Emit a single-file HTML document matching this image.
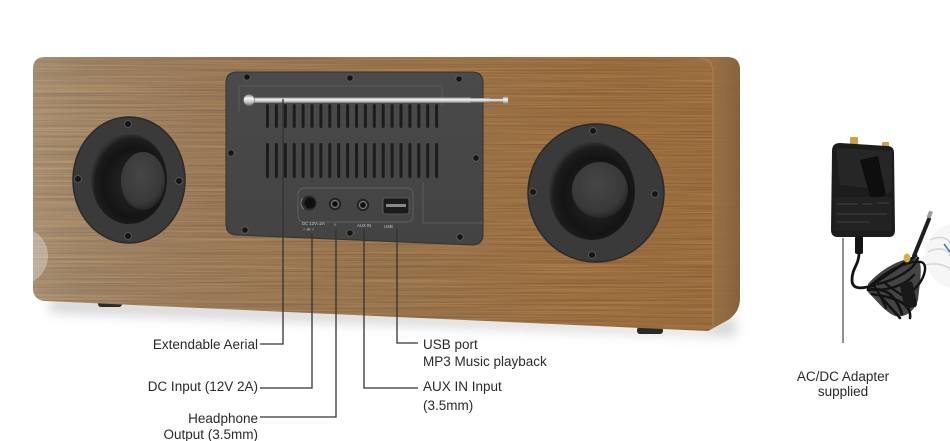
<!DOCTYPE html>
<html><head><meta charset="utf-8"><style>
html,body{margin:0;padding:0;background:#fff;width:950px;height:441px;overflow:hidden}
svg{display:block}
text{font-family:"Liberation Sans",Arial,sans-serif}
</style></head><body>
<svg width="950" height="441" viewBox="0 0 950 441" xmlns="http://www.w3.org/2000/svg">
<defs>
  <linearGradient id="wood" gradientUnits="userSpaceOnUse" x1="33" y1="0" x2="740" y2="0">
    <stop offset="0" stop-color="#bca387"/>
    <stop offset="0.07" stop-color="#b39879"/>
    <stop offset="0.25" stop-color="#a88866"/>
    <stop offset="0.5" stop-color="#a78258"/>
    <stop offset="0.8" stop-color="#ab7a48"/>
    <stop offset="1" stop-color="#a77846"/>
  </linearGradient>
  <linearGradient id="side" x1="0" y1="0" x2="1" y2="0">
    <stop offset="0" stop-color="#9a7144"/>
    <stop offset="0.5" stop-color="#906b42"/>
    <stop offset="1" stop-color="#84613b"/>
  </linearGradient>
  <clipPath id="bodyclip">
    <path d="M45,57 H727 Q740,57 740,70 V298 Q740,312 728,320 L708,331 L45,301 Q33,300 33,288 V69 Q33,57 45,57 Z"/>
  </clipPath>
  <filter id="grain" x="0" y="0" width="1" height="1" color-interpolation-filters="sRGB">
    <feTurbulence type="fractalNoise" baseFrequency="0.006 0.7" numOctaves="3" seed="7" result="n"/>
    <feColorMatrix in="n" type="matrix" values="1.2 0 0 0 -0.25  1 0 0 0 -0.27  0.6 0 0 0 -0.2  0 0 0 0 0.2"/>
  </filter>
  <filter id="blur6" x="-0.2" y="-1" width="1.4" height="3"><feGaussianBlur stdDeviation="6"/></filter>
  <radialGradient id="bowlL" cx="0.55" cy="0.55" r="0.55">
    <stop offset="0" stop-color="#2a2a2a"/>
    <stop offset="0.7" stop-color="#141414"/>
    <stop offset="0.9" stop-color="#1c1c1c"/>
    <stop offset="1" stop-color="#333"/>
  </radialGradient>
  <radialGradient id="dome" cx="0.45" cy="0.4" r="0.6">
    <stop offset="0" stop-color="#464646"/>
    <stop offset="0.8" stop-color="#393939"/>
    <stop offset="1" stop-color="#262626"/>
  </radialGradient>
  <linearGradient id="rod" x1="0" y1="0" x2="0" y2="1">
    <stop offset="0" stop-color="#8a8a8a"/>
    <stop offset="0.35" stop-color="#f6f6f6"/>
    <stop offset="0.7" stop-color="#c4c4c4"/>
    <stop offset="1" stop-color="#6e6e6e"/>
  </linearGradient>
  <linearGradient id="panelG" x1="0" y1="0" x2="0" y2="1">
    <stop offset="0" stop-color="#4a4a4a"/>
    <stop offset="1" stop-color="#434343"/>
  </linearGradient>
</defs>

<!-- shadow under body -->
<path d="M50,298 L705,328 L735,315 L735,336 L50,312 Z" fill="#9a9a9a" opacity="0.45" filter="url(#blur6)"/>

<!-- feet -->
<rect x="98" y="300" width="24" height="7" rx="3" fill="#2a2a2a"/>
<rect x="637" y="327" width="26" height="7" rx="3" fill="#2a2a2a"/>

<!-- body -->
<g clip-path="url(#bodyclip)">
  <rect x="30" y="55" width="715" height="280" fill="url(#wood)"/>
  <rect x="30" y="55" width="715" height="280" filter="url(#grain)"/>
  <!-- side face -->
  <path d="M713,57 H727 Q740,57 740,70 V298 Q740,312 728,320 L708,331 L713,331 Z" fill="url(#side)" opacity="0.88"/>
  <path d="M700,58 Q713,59 713,73 V330" fill="none" stroke="#b08655" stroke-width="1.2" opacity="0.7"/>
  <circle cx="19" cy="256" r="29" fill="#ffffff" opacity="0.3"/>
</g>

<!-- left speaker -->
<ellipse cx="129" cy="180" rx="56" ry="63" fill="#3a3a3a" stroke="#2a2a2a" stroke-width="1.5"/>
<ellipse cx="129" cy="179" rx="38" ry="45" fill="url(#bowlL)"/>
<ellipse cx="143" cy="181" rx="22" ry="29" fill="url(#dome)"/>
<g fill="#151515" stroke="#555" stroke-width="1">
  <circle cx="128" cy="124" r="3.5"/><circle cx="78" cy="179" r="3.5"/>
  <circle cx="179" cy="181" r="3.5"/><circle cx="128" cy="236" r="3.5"/>
</g>

<!-- right speaker -->
<ellipse cx="596" cy="193" rx="68" ry="69" fill="#3a3a3a" stroke="#2a2a2a" stroke-width="1.5"/>
<ellipse cx="592" cy="191" rx="43" ry="49" fill="url(#bowlL)"/>
<ellipse cx="600" cy="190" rx="28" ry="28" fill="url(#dome)"/>
<g fill="#151515" stroke="#555" stroke-width="1">
  <circle cx="593" cy="131" r="3.5"/><circle cx="533" cy="192" r="3.5"/>
  <circle cx="655" cy="194" r="3.5"/><circle cx="592" cy="255" r="3.5"/>
</g>

<!-- back panel -->
<path d="M237,72 H472 Q483,72 483,83 V234 Q483,245 472,245 L237,235 Q226,235 226,224 V83 Q226,72 237,72 Z" fill="url(#panelG)" stroke="#333" stroke-width="1"/>
<path d="M239,112 V86 H442 V106" fill="none" stroke="#5a5a5a" stroke-width="1"/>
<path d="M423,183 V223 H483" fill="none" stroke="#5c5c5c" stroke-width="1"/>
<rect x="298" y="188" width="115" height="34" rx="6" fill="none" stroke="#5e5e5e" stroke-width="1"/>
<!-- vents -->
<g fill="#1c1c1c">
  <rect x="266" y="104" width="3" height="24" rx="1.5"/><rect x="274.9" y="104" width="3" height="24" rx="1.5"/>
  <rect x="283.8" y="104" width="3" height="24" rx="1.5"/><rect x="292.7" y="104" width="3" height="24" rx="1.5"/>
  <rect x="301.6" y="104" width="3" height="24" rx="1.5"/><rect x="310.5" y="104" width="3" height="24" rx="1.5"/>
  <rect x="319.4" y="104" width="3" height="24" rx="1.5"/><rect x="328.3" y="104" width="3" height="24" rx="1.5"/>
  <rect x="337.2" y="104" width="3" height="24" rx="1.5"/><rect x="346.1" y="104" width="3" height="24" rx="1.5"/>
  <rect x="355" y="104" width="3" height="24" rx="1.5"/><rect x="363.9" y="104" width="3" height="24" rx="1.5"/>
  <rect x="372.8" y="104" width="3" height="24" rx="1.5"/><rect x="381.7" y="104" width="3" height="24" rx="1.5"/>
  <rect x="390.6" y="104" width="3" height="24" rx="1.5"/><rect x="399.5" y="104" width="3" height="24" rx="1.5"/>
  <rect x="408.4" y="104" width="3" height="24" rx="1.5"/><rect x="417.3" y="104" width="3" height="24" rx="1.5"/>
  <rect x="426.2" y="104" width="3" height="24" rx="1.5"/><rect x="435.1" y="104" width="3" height="24" rx="1.5"/>

  <rect x="266" y="143" width="3" height="35" rx="1.5"/><rect x="274.9" y="143" width="3" height="35" rx="1.5"/>
  <rect x="283.8" y="143" width="3" height="35" rx="1.5"/><rect x="292.7" y="143" width="3" height="35" rx="1.5"/>
  <rect x="301.6" y="143" width="3" height="35" rx="1.5"/><rect x="310.5" y="143" width="3" height="35" rx="1.5"/>
  <rect x="319.4" y="143" width="3" height="35" rx="1.5"/><rect x="328.3" y="143" width="3" height="35" rx="1.5"/>
  <rect x="337.2" y="143" width="3" height="35" rx="1.5"/><rect x="346.1" y="143" width="3" height="35" rx="1.5"/>
  <rect x="355" y="143" width="3" height="35" rx="1.5"/><rect x="363.9" y="143" width="3" height="35" rx="1.5"/>
  <rect x="372.8" y="143" width="3" height="35" rx="1.5"/><rect x="381.7" y="143" width="3" height="35" rx="1.5"/>
  <rect x="390.6" y="143" width="3" height="35" rx="1.5"/><rect x="399.5" y="143" width="3" height="35" rx="1.5"/>
  <rect x="408.4" y="143" width="3" height="35" rx="1.5"/><rect x="417.3" y="143" width="3" height="35" rx="1.5"/>
  <rect x="426.2" y="143" width="3" height="35" rx="1.5"/><rect x="435.1" y="143" width="3" height="35" rx="1.5"/>
</g>
<!-- panel screws -->
<g fill="#141414" stroke="#5a5a5a" stroke-width="1">
  <circle cx="247" cy="77" r="3.3"/><circle cx="350" cy="78" r="3.3"/><circle cx="459" cy="79" r="3.3"/>
  <circle cx="231" cy="153" r="3.3"/><circle cx="476" cy="158" r="3.3"/>
  <circle cx="245" cy="230" r="3.3"/><circle cx="350" cy="233" r="3.3"/><circle cx="460" cy="237" r="3.3"/>
</g>
<!-- connectors -->
<circle cx="309" cy="203" r="7.5" fill="#2a2a2a"/>
<circle cx="310" cy="203" r="5.5" fill="#0f0f0f"/>
<path d="M303,198 A7.5,7.5 0 0 0 304,209" fill="none" stroke="#777" stroke-width="1"/>
<circle cx="335" cy="204" r="5.5" fill="#2e2e2e" stroke="#1a1a1a" stroke-width="1"/>
<circle cx="335" cy="204" r="3.6" fill="none" stroke="#7a7a7a" stroke-width="1"/>
<circle cx="335" cy="204" r="2.2" fill="#0c0c0c"/>
<circle cx="363" cy="205" r="5.5" fill="#2e2e2e" stroke="#1a1a1a" stroke-width="1"/>
<circle cx="363" cy="205" r="3.6" fill="none" stroke="#7a7a7a" stroke-width="1"/>
<circle cx="363" cy="205" r="2.2" fill="#0c0c0c"/>
<rect x="383" y="198" width="26" height="16" rx="2.5" fill="#1b1b1b" stroke="#666" stroke-width="0.8"/>
<rect x="386" y="204" width="20" height="3" fill="#8a8a8a"/>
<g fill="#c9c9c9" font-size="4.3">
  <text x="302" y="225">DC 12V=2A</text>
  <text x="303" y="230.5" font-size="4">○-◎-○</text>
  <text x="333.5" y="226">∩</text>
  <text x="357" y="227">AUX IN</text>
  <text x="384" y="228">USB</text>
</g>
<!-- aerial -->
<rect x="246" y="97.5" width="226" height="5.5" rx="2" fill="url(#rod)"/>
<rect x="470" y="98" width="20" height="4.5" fill="url(#rod)"/>
<rect x="489" y="98.6" width="14" height="3.4" fill="url(#rod)"/>
<rect x="503" y="96.5" width="5" height="7.5" rx="1.5" fill="url(#rod)"/>
<circle cx="249" cy="100" r="5.5" fill="url(#rod)" stroke="#777" stroke-width="0.6"/>

<!-- leader lines -->
<g fill="none" stroke="#333" stroke-width="1.3">
  <path d="M283,99 V344 H260"/>
  <path d="M312,234 V388 H260"/>
  <path d="M336,229 V417 H260"/>
  <path d="M364,229 V388 H418"/>
  <path d="M397,228 V343 H418"/>
  <path d="M843,238 V343" stroke="#555"/>
</g>

<!-- labels -->
<g fill="#2a2a2a" font-size="13.5">
  <text x="258" y="349" text-anchor="end">Extendable Aerial</text>
  <text x="258" y="391" text-anchor="end">DC Input (12V 2A)</text>
  <text x="258" y="423" text-anchor="end">Headphone</text>
  <text x="258" y="439" text-anchor="end">Output (3.5mm)</text>
  <text x="423" y="349">USB port</text>
  <text x="423" y="366">MP3 Music playback</text>
  <text x="423" y="391">AUX IN Input</text>
  <text x="423" y="410">(3.5mm)</text>
  <text x="843" y="381" text-anchor="middle">AC/DC Adapter</text>
  <text x="843" y="396" text-anchor="middle">supplied</text>
</g>

<!-- right edge artifact (behind cable) -->
<circle cx="958" cy="256" r="33" fill="#efefef" opacity="0.55"/>
<path d="M930,240 C940,235 950,238 950,245 M928,252 C940,246 950,250 950,256 M925,265 C938,262 948,266 950,270" fill="none" stroke="#c8c8c8" stroke-width="1.5" opacity="0.7"/>
<path d="M944,244 L950,252" stroke="#3a6fd0" stroke-width="1.5"/>

<!-- adapter -->
<rect x="850" y="137" width="8" height="9" rx="1" fill="#c9a24a"/>
<rect x="882" y="142" width="7" height="8" rx="1" fill="#c9a24a"/>
<path d="M840,143 Q832,143 832,151 L831,230 Q831,237 838,237 L889,237 Q895,237 895,230 L894,153 Q894,146 887,146 Z" fill="#1c1c1c"/>
<path d="M836,148 L892,151 L892,190 L880,201 L866,188 L840,185 Z" fill="#262626"/>
<path d="M860,160 L878,156 L886,195 L872,204 Z" fill="#0e0e0e"/>
<rect x="834" y="197" width="58" height="34" rx="3" fill="#222"/>
<path d="M837,204 H858 M862,204 H872 M877,203 H889 M837,214 H887 M837,222 H870" stroke="#363636" stroke-width="1.5"/>
<rect x="855" y="236" width="8" height="18" rx="2" fill="#141414"/>
<!-- cable bundle -->
<path d="M868,284 C880,270 900,258 916,258 C924,262 920,280 918,300 C914,312 905,318 895,316 C885,312 876,300 868,292 Z" fill="#151515" opacity="0.8"/>
<g fill="none" stroke="#121212" stroke-linecap="round" stroke-linejoin="round">
  <path d="M859,253 C859,265 852,268 852,280 C852,290 862,289 875,285" stroke-width="2.8"/>
  <path d="M870,286 C886,276 902,264 916,256" stroke-width="2.8"/>
  <path d="M868,290 C884,287 895,293 902,314" stroke-width="2.8"/>
  <path d="M872,294 C892,297 912,302 910,318" stroke-width="2.6"/>
  <path d="M868,288 C885,272 906,260 921,262 C929,264 925,281 911,292" stroke-width="2.4"/>
  <path d="M878,284 C895,280 914,270 918,258" stroke-width="2.4"/>
  <path d="M874,290 C890,290 905,285 914,275" stroke-width="2.4"/>
  <path d="M880,296 C888,305 895,312 900,318" stroke-width="2.6"/>
  <path d="M885,283 C895,292 906,296 915,306" stroke-width="2.2"/>
  <path d="M872,284 C880,292 882,300 886,308" stroke-width="2.2"/>
  <path d="M914,256 L929,219" stroke="#1e1e1e" stroke-width="4"/>
</g>
<rect x="902" y="282" width="13" height="26" rx="3" fill="#181818" transform="rotate(-12 908 295)"/>
<ellipse cx="907" cy="258" rx="3.5" ry="4.5" fill="#d3b245"/>
<rect x="928" y="211" width="4" height="7" fill="#9a9a9a" transform="rotate(22 930 214)"/>
</svg>
</body></html>
